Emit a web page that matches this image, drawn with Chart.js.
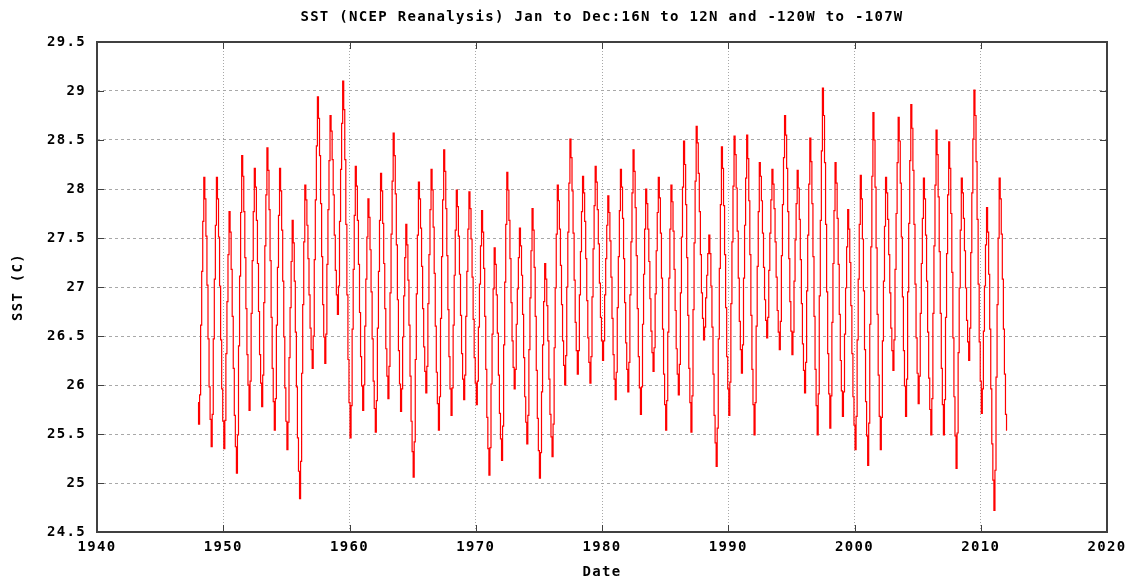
<!DOCTYPE html>
<html>
<head>
<meta charset="utf-8">
<script src="https://cdn.jsdelivr.net/npm/chart.js@4.4.1/dist/chart.umd.min.js"></script>
<style>
  html, body { margin: 0; padding: 0; background: #fff; }
  #wrap { width: 1138px; height: 578px; }
</style>
</head>
<body>
<div id="wrap"><canvas id="chart" width="1138" height="578"></canvas></div>
<script>
// monthly SST, starting Jan 1948
const FIRST_YEAR = 1948;

const sst1940s = [
  25.82,25.60,25.90,26.61,27.16,27.67,28.12,27.90,27.52,27.02,26.47,25.98,
  25.65,25.37,25.70,26.47,27.08,27.63,28.12,27.90,27.51,27.01,26.46,25.96
];
const sst1950s = [
  25.63,25.35,25.64,26.32,26.85,27.33,27.77,27.56,27.18,26.70,26.17,25.69,
  25.37,25.10,25.49,26.40,27.11,27.76,28.34,28.13,27.77,27.30,26.78,26.31,
  26.00,25.74,26.04,26.73,27.27,27.77,28.21,28.02,27.68,27.24,26.75,26.31,
  26.02,25.78,26.10,26.84,27.42,27.94,28.42,28.19,27.79,27.27,26.69,26.17,
  25.83,25.54,25.86,26.61,27.20,27.73,28.21,27.98,27.58,27.06,26.49,25.97,
  25.63,25.34,25.62,26.28,26.79,27.26,27.68,27.45,27.06,26.54,25.98,25.46,
  25.12,24.84,25.22,26.12,26.82,27.46,28.04,27.89,27.63,27.29,26.92,26.58,
  26.36,26.17,26.50,27.28,27.89,28.44,28.94,28.72,28.34,27.85,27.31,26.82,
  26.49,26.22,26.52,27.23,27.79,28.29,28.75,28.59,28.30,27.94,27.53,27.17,
  26.92,26.72,27.01,27.67,28.20,28.67,29.10,28.81,28.30,27.64,26.92,26.26
];
const sst1960s = [
  25.82,25.46,25.79,26.57,27.18,27.73,28.23,28.03,27.68,27.23,26.74,26.29,
  25.99,25.74,26.00,26.60,27.08,27.51,27.90,27.71,27.38,26.95,26.47,26.04,
  25.76,25.52,25.84,26.58,27.16,27.68,28.16,27.98,27.65,27.24,26.78,26.37,
  26.09,25.86,26.19,26.94,27.54,28.08,28.57,28.34,27.95,27.43,26.87,26.35,
  26.01,25.73,25.96,26.49,26.91,27.30,27.64,27.43,27.07,26.61,26.09,25.63,
  25.32,25.06,25.42,26.26,26.93,27.53,28.07,27.90,27.60,27.21,26.78,26.39,
  26.14,25.92,26.19,26.83,27.33,27.79,28.20,27.99,27.61,27.14,26.60,26.13,
  25.81,25.54,25.88,26.68,27.31,27.89,28.40,28.18,27.80,27.32,26.77,26.29,
  25.96,25.69,25.97,26.61,27.12,27.58,27.99,27.82,27.52,27.13,26.71,26.32,
  26.06,25.85,26.10,26.70,27.16,27.59,27.97,27.80,27.49,27.10,26.67,26.28
];
const sst1970s = [
  26.02,25.80,26.04,26.59,27.03,27.42,27.78,27.56,27.19,26.70,26.16,25.67,
  25.35,25.08,25.36,26.01,26.52,26.98,27.40,27.23,26.92,26.53,26.10,25.71,
  25.45,25.23,25.58,26.41,27.05,27.64,28.17,27.99,27.68,27.29,26.84,26.45,
  26.18,25.96,26.16,26.62,26.98,27.30,27.60,27.42,27.12,26.72,26.28,25.88,
  25.62,25.40,25.69,26.36,26.89,27.37,27.80,27.58,27.20,26.70,26.15,25.66,
  25.33,25.05,25.31,25.93,26.41,26.85,27.24,27.08,26.81,26.45,26.06,25.70,
  25.47,25.27,25.60,26.38,26.99,27.54,28.04,27.88,27.59,27.22,26.82,26.45,
  26.20,26.00,26.30,27.00,27.56,28.06,28.51,28.32,27.98,27.55,27.07,26.64,
  26.35,26.11,26.35,26.92,27.36,27.77,28.13,27.96,27.67,27.29,26.86,26.48,
  26.23,26.02,26.29,26.90,27.39,27.83,28.23,28.07,27.79,27.44,27.04,26.69
];
const sst1980s = [
  26.45,26.25,26.45,26.92,27.29,27.63,27.93,27.76,27.47,27.10,26.68,26.31,
  26.06,25.85,26.13,26.79,27.31,27.78,28.20,28.02,27.70,27.29,26.84,26.43,
  26.16,25.93,26.23,26.92,27.46,27.96,28.40,28.18,27.81,27.32,26.78,26.29,
  25.97,25.70,25.98,26.62,27.13,27.59,28.00,27.85,27.59,27.26,26.88,26.55,
  26.33,26.14,26.38,26.93,27.37,27.76,28.12,27.91,27.55,27.09,26.57,26.11,
  25.80,25.54,25.84,26.54,27.09,27.59,28.04,27.87,27.57,27.18,26.76,26.37,
  26.11,25.90,26.21,26.94,27.51,28.02,28.49,28.25,27.84,27.30,26.71,26.17,
  25.82,25.52,25.89,26.77,27.45,28.08,28.64,28.47,28.16,27.77,27.33,26.94,
  26.68,26.46,26.59,26.89,27.12,27.34,27.53,27.34,27.01,26.59,26.11,25.69,
  25.41,25.17,25.56,26.47,27.19,27.84,28.43,28.21,27.83,27.33,26.79,26.29
];
const sst1990s = [
  25.96,25.69,26.03,26.83,27.46,28.03,28.54,28.35,28.01,27.57,27.09,26.65,
  26.36,26.12,26.41,27.09,27.63,28.11,28.55,28.31,27.88,27.33,26.71,26.16,
  25.80,25.49,25.82,26.60,27.21,27.77,28.27,28.13,27.88,27.55,27.20,26.87,
  26.66,26.48,26.69,27.17,27.55,27.89,28.20,28.05,27.80,27.46,27.10,26.76,
  26.54,26.36,26.65,27.32,27.84,28.32,28.75,28.55,28.21,27.77,27.29,26.85,
  26.55,26.31,26.54,27.06,27.48,27.85,28.19,28.01,27.69,27.28,26.83,26.42,
  26.15,25.92,26.23,26.96,27.53,28.05,28.52,28.28,27.85,27.31,26.70,26.16,
  25.79,25.49,25.91,26.91,27.68,28.39,29.03,28.75,28.27,27.64,26.95,26.32,
  25.91,25.56,25.89,26.64,27.24,27.78,28.27,28.06,27.70,27.23,26.72,26.25,
  25.94,25.68,25.93,26.52,26.99,27.41,27.79,27.59,27.25,26.81,26.32,25.88
];
const sst2000s = [
  25.59,25.34,25.68,26.46,27.08,27.64,28.14,27.90,27.49,26.96,26.36,25.83,
  25.48,25.18,25.61,26.62,27.41,28.13,28.78,28.50,28.02,27.40,26.72,26.10,
  25.68,25.34,25.67,26.45,27.06,27.62,28.12,27.96,27.69,27.33,26.94,26.58,
  26.35,26.15,26.46,27.18,27.75,28.27,28.73,28.49,28.06,27.51,26.90,26.35,
  25.99,25.68,26.06,26.95,27.65,28.29,28.86,28.62,28.19,27.64,27.03,26.48,
  26.12,25.81,26.09,26.73,27.24,27.70,28.11,27.90,27.53,27.06,26.54,26.07,
  25.75,25.49,25.86,26.73,27.42,28.04,28.60,28.35,27.92,27.36,26.73,26.17,
  25.80,25.49,25.85,26.69,27.34,27.94,28.48,28.21,27.75,27.15,26.48,25.88,
  25.48,25.15,25.51,26.33,26.99,27.58,28.11,27.96,27.70,27.37,26.99,26.66,
  26.44,26.25,26.58,27.35,27.96,28.51,29.01,28.75,28.28,27.69,27.03,26.44
];
const sst2010s = [
  26.04,25.71,25.96,26.55,27.01,27.43,27.81,27.56,27.13,26.57,25.96,25.40,
  25.03,24.72,25.13,26.08,26.82,27.50,28.11,27.90,27.54,27.08,26.57,26.11,
  25.70,25.54
];

const xTickValues = [1940, 1950, 1960, 1970, 1980, 1990, 2000, 2010, 2020];
const yTickValues = [24.5, 25, 25.5, 26, 26.5, 27, 27.5, 28, 28.5, 29, 29.5];

const monthly = [].concat(sst1940s, sst1950s, sst1960s, sst1970s, sst1980s, sst1990s, sst2000s, sst2010s);
const points = monthly.map((v, i) => ({ x: FIRST_YEAR + i / 12, y: v }));

const FONT = "'DejaVu Sans Mono', 'Liberation Mono', monospace";
Chart.defaults.font.family = FONT;
Chart.defaults.font.size = 14;
Chart.defaults.font.weight = 'bold';
Chart.defaults.color = '#000';

// gnuplot-ish frame with inward ticks, plus wide letter spacing
const framePlugin = {
  id: 'frame',
  beforeUpdate(chart) { chart.ctx.letterSpacing = '1.3px'; },
  beforeDraw(chart) { chart.ctx.letterSpacing = '1.3px'; },
  afterDraw(chart) {
    const { ctx, chartArea: a, scales } = chart;
    ctx.save();
    ctx.setLineDash([]);
    ctx.strokeStyle = '#404040';
    ctx.lineWidth = 1;
    ctx.beginPath();
    scales.x.ticks.forEach(t => {
      const px = Math.round(scales.x.getPixelForValue(t.value)) + 0.5;
      ctx.moveTo(px, a.bottom); ctx.lineTo(px, a.bottom - 7);
      ctx.moveTo(px, a.top); ctx.lineTo(px, a.top + 7);
    });
    scales.y.ticks.forEach(t => {
      const py = Math.round(scales.y.getPixelForValue(t.value)) + 0.5;
      ctx.moveTo(a.left, py); ctx.lineTo(a.left + 7, py);
      ctx.moveTo(a.right, py); ctx.lineTo(a.right - 7, py);
    });
    ctx.stroke();
    ctx.lineWidth = 2;
    ctx.strokeRect(a.left, a.top, a.right - a.left, a.bottom - a.top);
    ctx.restore();
  }
};

new Chart(document.getElementById('chart').getContext('2d'), {
  type: 'line',
  data: {
    datasets: [{
      data: points,
      borderColor: '#ff0000',
      borderWidth: 1.2,
      pointRadius: 0,
      stepped: 'middle',
      fill: false
    }]
  },
  options: {
    responsive: false,
    animation: false,
    events: [],
    layout: { padding: { left: 0, top: 0, right: 31, bottom: 0 } },
    plugins: {
      legend: { display: false },
      tooltip: { enabled: false },
      title: {
        display: true,
        fullSize: false,
        text: 'SST (NCEP Reanalysis) Jan to Dec:16N to 12N and -120W to -107W',
        color: '#000',
        font: { family: FONT, size: 14, weight: 'bold' },
        padding: { top: 8.6, bottom: 16.6 }
      }
    },
    scales: {
      x: {
        type: 'linear',
        min: 1940,
        max: 2020,
        afterBuildTicks: s => { s.ticks = xTickValues.map(v => ({ value: v })); },
        afterFit: s => { s.height = 46; },
        ticks: { padding: 7, maxRotation: 0, autoSkip: false, callback: v => String(v) },
        grid: { color: '#a8a8a8', lineWidth: 1, drawTicks: false },
        border: { display: false, dash: [1, 2] },
        title: { display: true, text: 'Date', padding: { top: 0, bottom: -3 } }
      },
      y: {
        min: 24.5,
        max: 29.5,
        afterBuildTicks: s => { s.ticks = yTickValues.map(v => ({ value: v })); },
        afterFit: s => { s.width = 97; },
        ticks: { padding: 11, autoSkip: false, callback: v => String(v) },
        grid: { color: '#a8a8a8', lineWidth: 1, drawTicks: false },
        border: { display: false, dash: [3, 3] },
        title: { display: true, text: 'SST (C)', padding: { top: 9.6, bottom: 0 } }
      }
    }
  },
  plugins: [framePlugin]
});
</script>
</body>
</html>
